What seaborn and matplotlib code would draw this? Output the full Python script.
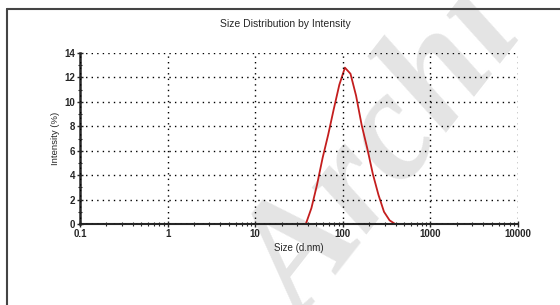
import numpy as np
import pandas as pd
import matplotlib
matplotlib.use("Agg")
import matplotlib.pyplot as plt
import seaborn as sns
from matplotlib.lines import Line2D
from matplotlib.ticker import LogLocator, MultipleLocator

# size bins (d.nm) and intensity (%)
sizes = [37.84, 43.82, 50.75, 58.77, 68.06, 78.82, 91.28, 105.7, 122.4,
         141.8, 164.2, 190.1, 220.2, 255.0, 295.3, 342.0, 396.1]
intensity = [0.0, 1.3, 3.2, 5.4, 7.3, 9.4, 11.4, 12.8, 12.3,
             10.5, 8.1, 6.2, 4.1, 2.4, 1.0, 0.3, 0.0]
x_ticks = [0.1, 1, 10, 100, 1000, 10000]
x_labels = ["0.1", "1", "10", "100", "1000", "10000"]
y_ticks = [0, 2, 4, 6, 8, 10, 12, 14]
baseline_x = [0.1, 10000]
baseline_y = [0, 0]

df = pd.DataFrame({"Size": sizes, "Intensity": intensity})
base = pd.DataFrame({"Size": baseline_x, "Intensity": baseline_y})

sns.set_style("white")
plt.rcParams['font.family'] = ['Liberation Sans', 'DejaVu Sans']

fig = plt.figure(figsize=(5.6, 3.05), dpi=100)
ax = fig.add_axes([80/560, 1-224/305, 438/560, 171/305])
ax.set_zorder(1)
ax.patch.set_alpha(0)

# watermark, behind the axes
fig.text(0.69, 0.48, "Archi", fontsize=112, family="Liberation Serif",
         fontweight="bold", fontstyle="italic", color="#e4e4e4",
         rotation=52, ha="center", va="center", zorder=0)

sns.lineplot(data=base, x="Size", y="Intensity", color="#7fd3d8", lw=1.2, ax=ax)
sns.lineplot(data=df, x="Size", y="Intensity", color="#c41e1e", lw=1.3, ax=ax)

ax.set_xscale("log")
ax.set_xlim(0.1, 10000)
ax.set_ylim(0, 14)
ax.set_xticks(x_ticks)
ax.set_xticklabels(x_labels)
ax.set_yticks(y_ticks)
ax.yaxis.set_minor_locator(MultipleLocator(1))
ax.xaxis.set_minor_locator(LogLocator(base=10, subs=np.arange(2, 10)))
ax.grid(True, which="major", color="black", linestyle=(0, (1, 3)), lw=1)
ax.set_axisbelow(False)

for s in ["top", "right"]:
    ax.spines[s].set_visible(False)
ax.spines["left"].set_linewidth(1.8)
ax.spines["bottom"].set_linewidth(1.5)
ax.tick_params(axis="both", which="major", direction="inout", length=5,
               width=1, labelsize=7, pad=1)
ax.tick_params(axis="both", which="minor", direction="inout", length=3, width=0.8)
ax.tick_params(axis="x", which="both", bottom=True)
ax.tick_params(axis="y", which="both", left=True)
for lab in ax.get_xticklabels() + ax.get_yticklabels():
    lab.set_fontweight("bold")

ax.set_xlabel("Size (d.nm)", fontsize=7, labelpad=3)
ax.set_ylabel("Intensity (%)", fontsize=6.8, labelpad=3)
fig.text(0.51, 1-24/305, "Size Distribution by Intensity", fontsize=7.5,
         ha="center", va="center", zorder=2)

# figure frame
fig.add_artist(Line2D([7/560, 7/560], [0, 1-9/305], color="#444444", lw=1.5))
fig.add_artist(Line2D([7/560, 1], [1-9/305, 1-9/305], color="#444444", lw=1.5))

fig.savefig("out.png", dpi=100)
